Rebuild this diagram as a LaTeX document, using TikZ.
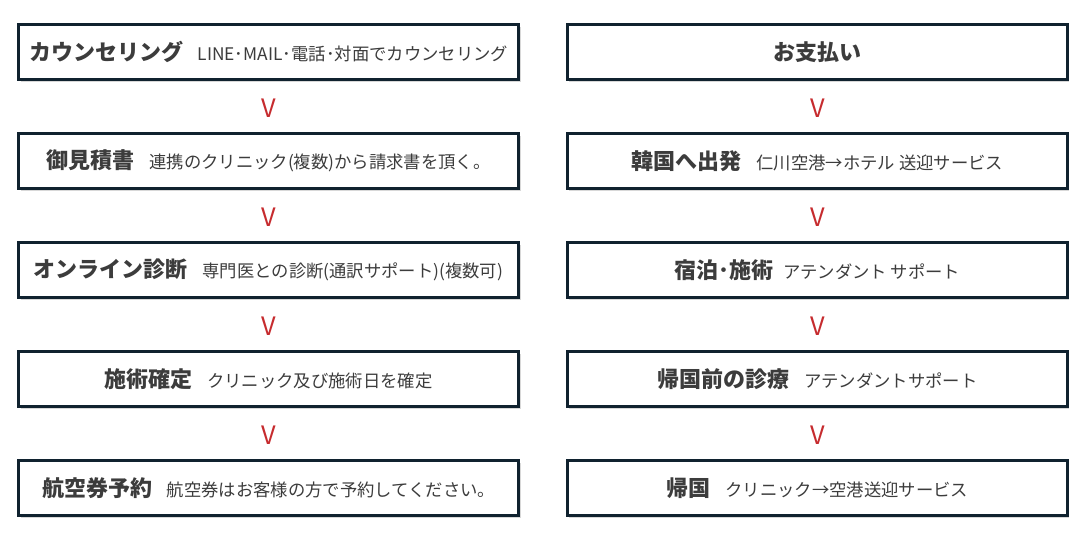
\documentclass[tikz,border=0pt]{standalone}
\usepackage{fontspec}
\setmainfont{Noto Sans CJK JP}
\usepackage{tikz}
\usetikzlibrary{positioning, calc, shadows}

\definecolor{boxline}{HTML}{10222F}
\definecolor{boxtext}{HTML}{3C3C3C}
\definecolor{markred}{HTML}{C62B2E}

\newcommand{\boxtitle}[1]{{\fontsize{16.5}{18}\selectfont\bfseries #1}}
\newcommand{\boxnote}[1]{{\fontsize{13}{15}\selectfont #1}}

\begin{document}
\begin{tikzpicture}[node distance=38.25pt]
    % Define styles
    \tikzstyle{stepbox} = [rectangle, minimum width=375pt, minimum height=41.25pt, inner sep=0pt, line width=2.25pt, draw=boxline, fill=white, text=boxtext, drop shadow={shadow xshift=1.5pt, shadow yshift=-1.8pt, fill=black!30, opacity=0.5}]
    \tikzstyle{downmark} = [text=markred, font=\fontsize{19}{20}\selectfont, inner sep=0pt]

    \useasboundingbox (0,0) rectangle (816.75pt,-405.75pt);

    % Left column
    \node (counsel) [stepbox] at (201.4pt,-39pt) {\boxtitle{カウンセリング}\hspace{11pt}\boxnote{LINE･MAIL･電話･対面でカウンセリング}};
    \node (estimate) [stepbox, below=of counsel] {\boxtitle{御見積書}\hspace{11pt}\boxnote{連携のクリニック(複数)から請求書を頂く。}};
    \node (online) [stepbox, below=of estimate] {\boxtitle{オンライン診断}\hspace{11pt}\boxnote{専門医との診断(通訳サポート)(複数可)}};
    \node (confirm) [stepbox, below=of online] {\boxtitle{施術確定}\hspace{11pt}\boxnote{クリニック及び施術日を確定}};
    \node (flight) [stepbox, below=of confirm] {\boxtitle{航空券予約}\hspace{11pt}\boxnote{航空券はお客様の方で予約してください。}};

    % Right column
    \node (payment) [stepbox] at (613.1pt,-39pt) {\boxtitle{お支払い}};
    \node (depart) [stepbox, below=of payment] {\boxtitle{韓国へ出発}\hspace{11pt}\boxnote{仁川空港→ホテル 送迎サービス}};
    \node (stay) [stepbox, below=of depart] {\boxtitle{宿泊･施術}\hspace{7pt}\boxnote{アテンダント サポート}};
    \node (checkup) [stepbox, below=of stay] {\boxtitle{帰国前の診療}\hspace{11pt}\boxnote{アテンダントサポート}};
    \node (home) [stepbox, below=of checkup] {\boxtitle{帰国}\hspace{11pt}\boxnote{クリニック→空港送迎サービス}};

    % Marks between steps
    \node (v1) [downmark] at ($(counsel.south)!0.5!(estimate.north)+(0,-1pt)$) {V};
    \node (v2) [downmark] at ($(estimate.south)!0.5!(online.north)+(0,-1pt)$) {V};
    \node (v3) [downmark] at ($(online.south)!0.5!(confirm.north)+(0,-1pt)$) {V};
    \node (v4) [downmark] at ($(confirm.south)!0.5!(flight.north)+(0,-1pt)$) {V};
    \node (v5) [downmark] at ($(payment.south)!0.5!(depart.north)+(0,-1pt)$) {V};
    \node (v6) [downmark] at ($(depart.south)!0.5!(stay.north)+(0,-1pt)$) {V};
    \node (v7) [downmark] at ($(stay.south)!0.5!(checkup.north)+(0,-1pt)$) {V};
    \node (v8) [downmark] at ($(checkup.south)!0.5!(home.north)+(0,-1pt)$) {V};
\end{tikzpicture}
\end{document}
